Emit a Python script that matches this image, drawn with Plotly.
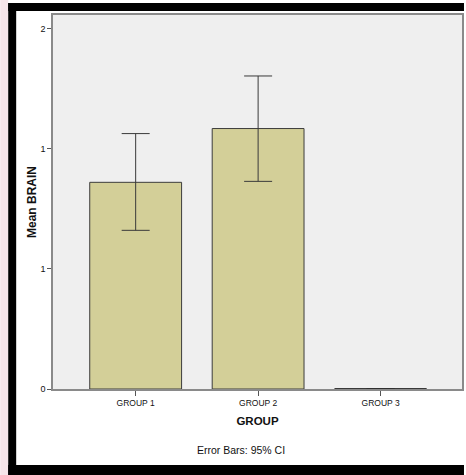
import plotly.graph_objects as go

# ---- data ----
categories = ["GROUP 1", "GROUP 2", "GROUP 3"]
means = [0.861, 1.085, 0.0]
ci_plus = [0.203, 0.219, None]
ci_minus = [0.200, 0.220, None]
y_tickvals = [0, 0.5, 1.0, 1.5]
y_ticktext = ["0", "1", "1", "2"]

W, H = 466, 475
L, R, T, B = 53, 2, 15, 86
PW, PH = W - L - R, H - T - B
BAR_W = 0.75


def px_x(p):
    return (p - L) / PW


def px_y(p):
    return (H - B - p) / PH


fig = go.Figure()
fig.add_trace(go.Bar(
    x=categories, y=means, width=BAR_W,
    marker=dict(color="#d3cf98", line=dict(color="#3c3c3c", width=1)),
    error_y=dict(type="data", array=ci_plus, arrayminus=ci_minus, symmetric=False,
                 color="#3a3a3a", thickness=1, width=14),
    showlegend=False,
))

shapes = []
# zero-height bars drawn as a line on the baseline
for i, v in enumerate(means):
    if v == 0:
        shapes.append(dict(type="line", xref="x", yref="y",
                           x0=i - BAR_W / 2, x1=i + BAR_W / 2, y0=v, y1=v,
                           line=dict(color="#2a2a2a", width=1.5), layer="above"))

# outer frame decoration
shapes += [
    dict(type="rect", xref="paper", yref="paper", x0=px_x(0), x1=px_x(8), y0=px_y(475), y1=px_y(0),
         fillcolor="#f6e5e9", line=dict(width=0), layer="below"),
    dict(type="rect", xref="paper", yref="paper", x0=px_x(8), x1=px_x(466), y0=px_y(11), y1=px_y(3),
         fillcolor="black", line=dict(width=0)),
    dict(type="rect", xref="paper", yref="paper", x0=px_x(8), x1=px_x(16), y0=px_y(475), y1=px_y(3),
         fillcolor="black", line=dict(width=0)),
    dict(type="rect", xref="paper", yref="paper", x0=px_x(8), x1=px_x(466), y0=px_y(475), y1=px_y(465),
         fillcolor="black", line=dict(width=0)),
]

fig.update_layout(
    width=W, height=H,
    margin=dict(l=L, r=R, t=T, b=B, pad=0),
    paper_bgcolor="white", plot_bgcolor="#efefef",
    font=dict(family="Liberation Sans, Arial, sans-serif", color="#111"),
    shapes=shapes,
    xaxis=dict(
        range=[-0.675, 2.665], showgrid=False, zeroline=False,
        showline=True, mirror=True, linecolor="#8a8a8a", linewidth=1.5,
        ticks="outside", ticklen=5, tickcolor="#555", tickwidth=1,
        tickfont=dict(family="Liberation Sans Narrow, Arial Narrow, sans-serif", size=8.5, color="#111"),
        title=dict(text="<b>GROUP</b>", font=dict(family="Liberation Sans, Arial, sans-serif", size=11.5, color="#111"),
                   standoff=10),
    ),
    yaxis=dict(
        range=[0, 1.558], showgrid=False, zeroline=False,
        showline=True, mirror=True, linecolor="#8a8a8a", linewidth=1.5,
        tickvals=y_tickvals, ticktext=y_ticktext,
        ticks="outside", ticklen=4, tickcolor="#555", tickwidth=1,
        tickfont=dict(family="Liberation Sans, Arial, sans-serif", size=9, color="#111"),
        title=dict(text="<b>Mean BRAIN</b>", font=dict(family="Liberation Sans, Arial, sans-serif", size=12, color="#111"),
                   standoff=1),
    ),
    annotations=[dict(text="Error Bars: 95% CI", xref="paper", yref="paper",
                      x=px_x(242), y=px_y(450), xanchor="center", yanchor="middle", showarrow=False,
                      font=dict(family="Liberation Sans Narrow, Arial Narrow, sans-serif", size=10.5, color="#111"))],
)

fig.write_html("out.html", config={"displayModeBar": False},
               post_script="document.body.style.margin='0';")
